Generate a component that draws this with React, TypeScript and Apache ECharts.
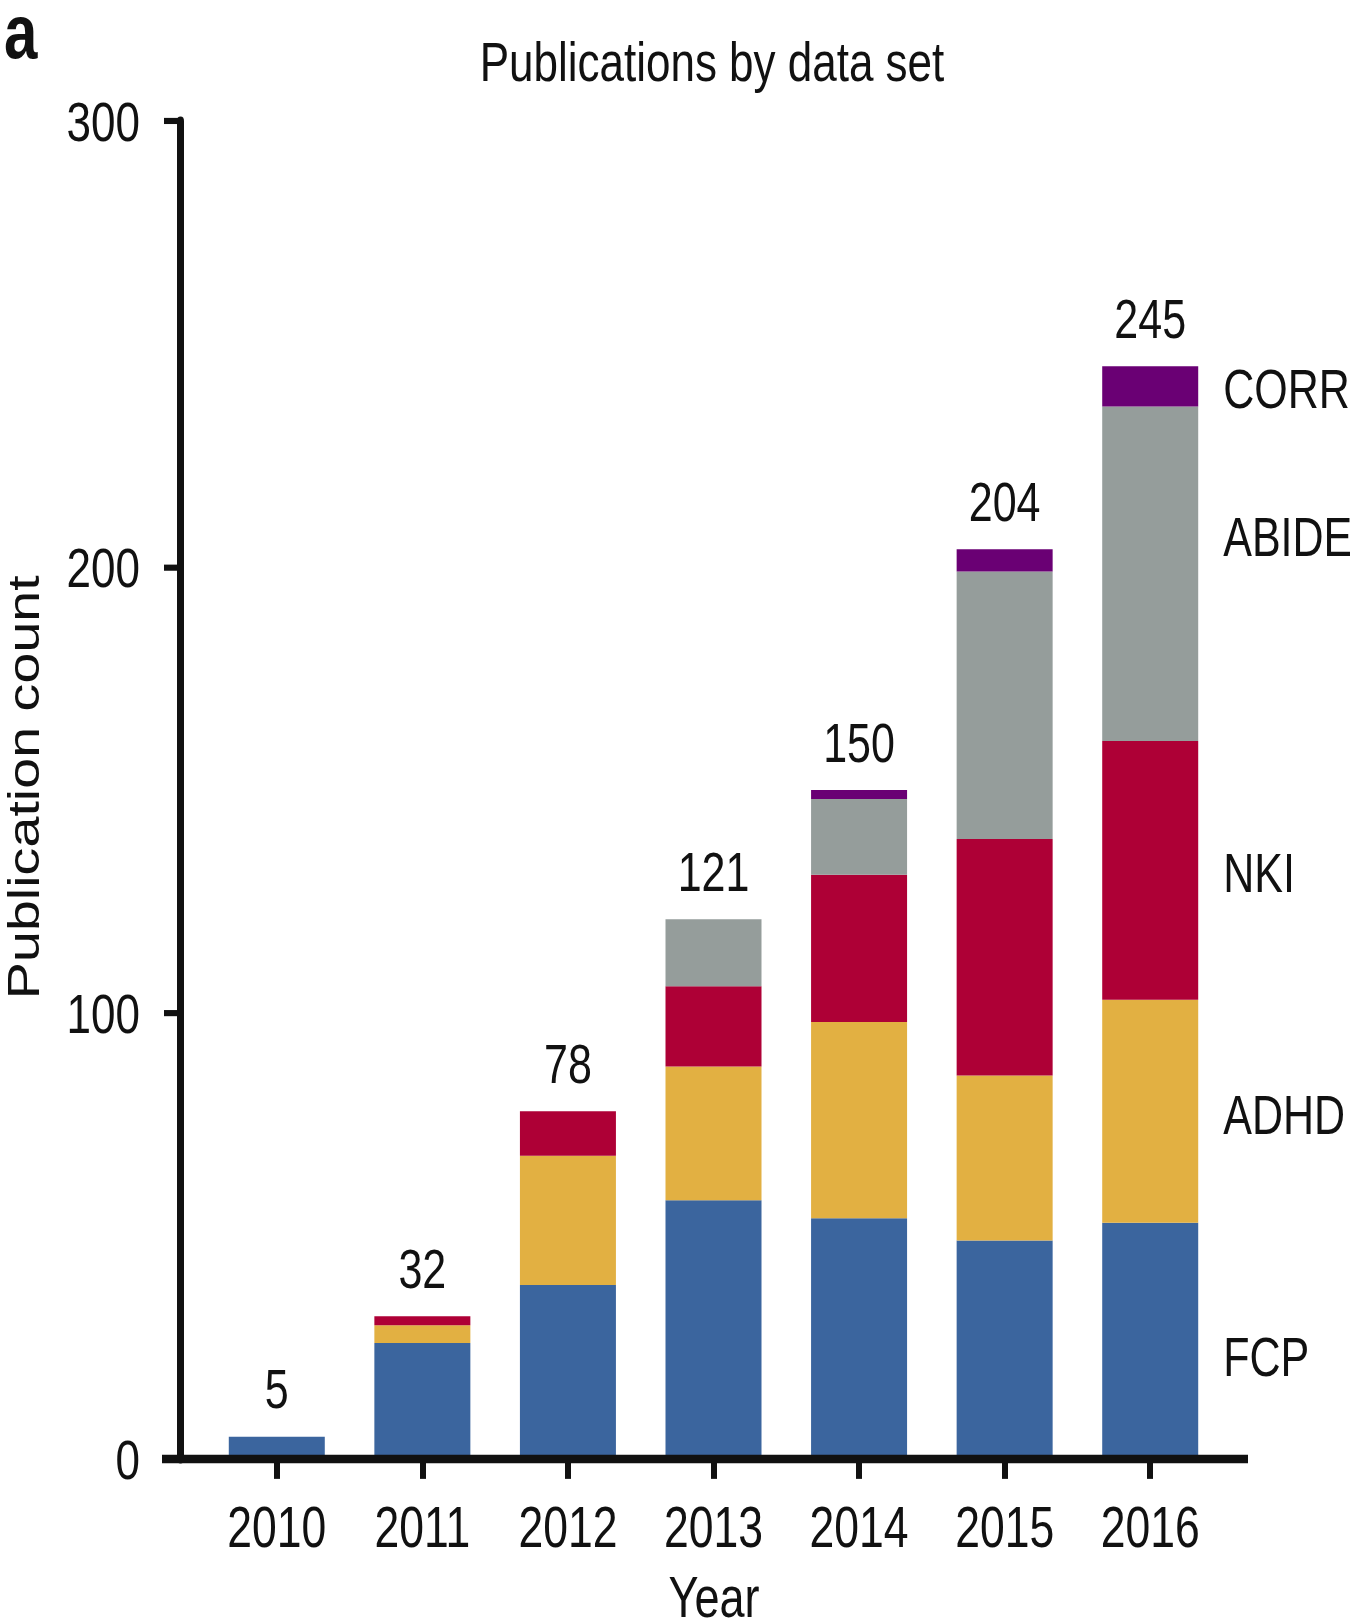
import React, { useEffect, useRef } from "react";
import * as echarts from "echarts";

// Publications per year, split by data set (stacked from the bottom up)
const years = ["2010", "2011", "2012", "2013", "2014", "2015", "2016"];
const fcp = [5, 26, 39, 58, 54, 49, 53];
const adhd = [0, 4, 29, 30, 44, 37, 50];
const nki = [0, 2, 10, 18, 33, 53, 58];
const abide = [0, 0, 0, 15, 17, 60, 75];
const corr = [0, 0, 0, 0, 2, 5, 9];
// Yearly totals printed above each column
const totals = [5, 32, 78, 121, 150, 204, 245];

const yMin = 0;
const yMax = 300;
const yStep = 100;

// The figure is drawn in a shorter box and stretched vertically,
// which gives the tall, condensed look of its lettering.
const STRETCH = 1.28;
const PAGE_W = 1350;
const PAGE_H = 1623;
const BOX_H = PAGE_H / STRETCH;

const FONT = "'Liberation Sans', Arial, Helvetica, sans-serif";
const INK = "#111111";

const dataSets = [
  { name: "FCP", data: fcp, color: "#3b659e", offset: [0, 12] },
  { name: "ADHD", data: adhd, color: "#e2b042", offset: [0, 3] },
  { name: "NKI", data: nki, color: "#ae0036", offset: [0, 2] },
  { name: "ABIDE", data: abide, color: "#959d9b", offset: [0, -29] },
  { name: "CORR", data: corr, color: "#6a0074", offset: [0, 2] },
];

export default function App() {
  const ref = useRef<HTMLDivElement>(null);

  useEffect(() => {
    document.body.style.margin = "0";
    document.body.style.overflow = "hidden";
    if (!ref.current) return;
    const chart = echarts.init(ref.current, undefined, { renderer: "svg" });
    const lastIndex = years.length - 1;

    const baseY = 1459 / STRETCH; // pixel row of the value 0
    const topY = 121 / STRETCH; // pixel row of the value 300

    const stackSeries = dataSets.map((d) => ({
      name: d.name,
      type: "bar",
      stack: "pubs",
      data: d.data,
      barWidth: 96,
      barGap: "-100%",
      itemStyle: { color: d.color },
      label: {
        show: true,
        position: "right",
        distance: 25,
        offset: d.offset,
        fontFamily: FONT,
        fontSize: 43,
        color: INK,
        formatter: (p: any) => (p.dataIndex === lastIndex ? p.seriesName : ""),
      },
      silent: true,
    }));

    const totalSeries = {
      name: "Total",
      type: "bar",
      data: totals,
      barWidth: 96,
      barGap: "-100%",
      itemStyle: { color: "rgba(0,0,0,0)" },
      label: {
        show: true,
        position: "top",
        distance: 16,
        fontFamily: FONT,
        fontSize: 43,
        color: INK,
        formatter: "{c}",
      },
      silent: true,
      z: 1,
    };

    chart.setOption({
      animation: false,
      backgroundColor: "#ffffff",
      grid: {
        left: 204,
        right: 127,
        top: topY,
        bottom: BOX_H - baseY,
        containLabel: false,
      },
      xAxis: {
        type: "category",
        data: years,
        axisLine: { show: false },
        axisTick: {
          show: true,
          alignWithLabel: true,
          length: 15.5,
          lineStyle: { color: INK, width: 6 },
        },
        axisLabel: {
          interval: 0,
          margin: 31,
          fontFamily: FONT,
          fontSize: 44.5,
          color: INK,
        },
      },
      yAxis: {
        type: "value",
        min: yMin,
        max: yMax,
        interval: yStep,
        offset: 24,
        splitLine: { show: false },
        axisLine: { show: true, lineStyle: { color: INK, width: 7 } },
        axisTick: { show: true, length: 16, lineStyle: { color: INK, width: 4.8 } },
        axisLabel: {
          margin: 40,
          fontFamily: FONT,
          fontSize: 44,
          color: INK,
        },
      },
      series: [...stackSeries, totalSeries],
      graphic: [
        {
          type: "line",
          shape: { x1: 162, y1: baseY, x2: 1248, y2: baseY },
          style: { stroke: INK, lineWidth: 6.5 },
          z: 10,
        },
        {
          type: "text",
          x: 4,
          y: 25,
          style: {
            text: "a",
            fontFamily: FONT,
            fontWeight: "bold",
            fontSize: 60,
            lineHeight: 40,
            fill: INK,
            textAlign: "left",
            textVerticalAlign: "middle",
          },
        },
        {
          type: "text",
          x: 712,
          y: 48,
          style: {
            text: "Publications by data set",
            fontFamily: FONT,
            fontSize: 44,
            fill: INK,
            textAlign: "center",
            textVerticalAlign: "middle",
          },
        },
        {
          type: "text",
          x: 24,
          y: 615,
          rotation: Math.PI / 2,
          style: {
            text: "Publication count",
            fontFamily: FONT,
            fontSize: 43.5,
            fill: INK,
            textAlign: "center",
            textVerticalAlign: "middle",
          },
        },
        {
          type: "text",
          x: 714,
          y: 1248,
          style: {
            text: "Year",
            fontFamily: FONT,
            fontSize: 45,
            lineHeight: 30,
            fill: INK,
            textAlign: "center",
            textVerticalAlign: "middle",
          },
        },
      ],
    });

    return () => chart.dispose();
  }, []);

  return (
    <div
      ref={ref}
      style={{
        position: "absolute",
        left: 0,
        top: 0,
        width: PAGE_W,
        height: BOX_H,
        transform: `scaleY(${STRETCH})`,
        transformOrigin: "0 0",
      }}
    />
  );
}
